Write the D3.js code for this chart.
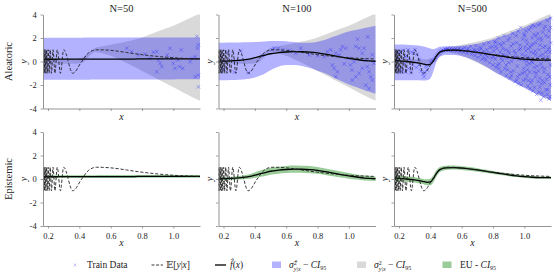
<!DOCTYPE html>
<html><head><meta charset="utf-8">
<script src="https://cdn.jsdelivr.net/npm/d3@7"></script>
<style>
body{margin:0;background:#fff}
svg{display:block}
text{font-family:"Liberation Serif","DejaVu Serif",serif;fill:#222}
</style>
</head><body><svg id="c" width="555" height="279"></svg>
<script>
// ---------------- DATA ----------------
const titles = ["N=50", "N=100", "N=500"];
const rowLabels = ["Aleatoric", "Epistemic"];
const xTicks = [0.2, 0.4, 0.6, 0.8, 1.0];
const yTicks = [-4, -2, 0, 2, 4];

// common x grid for the bands / model curves
const xs = [0.168,0.2,0.25,0.3,0.35,0.38,0.4,0.42,0.44,0.46,0.5,0.55,0.6,0.65,0.7,0.75,0.8,0.85,0.9,0.95,1.0,1.05,1.1,1.17];

// true mean E[y|x] (read at its extrema / knots)
const eX = [0.167,0.1696,0.1724,0.1755,0.1789,0.1825,0.1864,0.1908,0.1955,0.201,0.207,0.214,0.222,0.232,0.244,0.259,0.279,0.300,0.358,0.415,0.46,0.51,0.55,0.6,0.65,0.7,0.75,0.8,0.85,0.9,0.95,1.0,1.05,1.1,1.17];
const eY = [-1,1,-1,1,-1,1,-1,1,-1,1,-1,1,-1,1,-1,1,-1,1,-1,0,0.75,1.0,0.99,0.95,0.87,0.77,0.67,0.58,0.5,0.43,0.37,0.32,0.28,0.25,0.22];

// true aleatoric CI95 (grey)
const grayUp = [0.2,0.2,0.2,0.2,0.2,0.2,0.25,0.35,0.55,0.75,1.15,1.3,1.42,1.55,1.7,1.85,2.05,2.3,2.55,2.8,3.05,3.35,3.65,4.1];
const grayLo = [-0.2,-0.2,-0.2,-0.2,-0.2,-0.2,-0.15,-0.1,0.1,0.4,0.8,0.68,0.48,0.2,-0.1,-0.45,-0.8,-1.15,-1.5,-1.85,-2.2,-2.55,-2.9,-3.35];

// N=50
const fhat1   = [0.19,0.19,0.19,0.2,0.2,0.2,0.2,0.2,0.2,0.2,0.2,0.21,0.21,0.21,0.21,0.21,0.22,0.22,0.22,0.22,0.23,0.23,0.23,0.23];
const blueUp1 = [2.03,2.03,2.03,2.03,2.03,2.03,2.03,2.03,2.04,2.04,2.04,2.04,2.04,2.04,2.04,2.04,2.04,2.04,2.05,2.05,2.05,2.05,2.05,2.05];
const blueLo1 = [-1.55,-1.55,-1.55,-1.55,-1.55,-1.55,-1.55,-1.55,-1.55,-1.55,-1.54,-1.54,-1.54,-1.54,-1.54,-1.54,-1.53,-1.53,-1.53,-1.53,-1.53,-1.52,-1.52,-1.52];
const eu1     = [0.12,0.12,0.12,0.12,0.12,0.12,0.12,0.12,0.12,0.12,0.12,0.12,0.12,0.12,0.12,0.12,0.12,0.12,0.12,0.12,0.12,0.12,0.12,0.12];
const pts1 = [[0.703,1.13],[0.734,0.84],[0.777,0.56],[0.851,0.27],[0.872,0.79],[0.894,0.84],[0.904,0.13],[0.915,-0.16],[0.926,-0.44],[0.894,-0.87],[0.979,1.13],[0.99,0.27],[1.0,-0.16],[1.01,-0.58],[1.03,0.13],[1.04,-0.44],[1.05,0.99],[1.06,-0.58],[1.107,-0.02],[1.118,0.27],[1.139,0.41],[1.15,2.13],[1.154,1.13],[1.16,1.42],[1.16,-2.16],[1.16,-1.16],[1.14,-1.3],[0.96,0.55],[0.82,0.62]];

// N=100
const fhat2   = [0.02,0.03,0.05,0.1,0.18,0.25,0.32,0.4,0.47,0.53,0.66,0.75,0.81,0.84,0.83,0.8,0.73,0.62,0.5,0.38,0.27,0.17,0.08,0.02];
const blueUp2 = [1.6,1.6,1.61,1.62,1.63,1.64,1.65,1.67,1.69,1.71,1.74,1.75,1.72,1.65,1.6,1.6,1.68,1.85,2.1,2.35,2.55,2.7,2.85,3.05];
const blueLo2 = [-1.6,-1.6,-1.58,-1.55,-1.48,-1.42,-1.36,-1.28,-1.18,-1.06,-0.75,-0.45,-0.3,-0.3,-0.38,-0.55,-0.78,-1.02,-1.33,-1.65,-1.95,-2.2,-2.45,-2.75];
const eu2     = [0.12,0.12,0.13,0.15,0.18,0.21,0.24,0.26,0.28,0.29,0.3,0.3,0.3,0.3,0.3,0.3,0.29,0.28,0.27,0.26,0.24,0.22,0.21,0.2];
const pts2 = [[0.522,1.13],[0.693,1.13],[0.661,0.7],[0.746,0.56],[0.842,0.41],[0.863,0.84],[0.885,0.99],[0.916,0.7],[0.938,0.56],[0.948,0.99],[0.959,1.27],[0.98,1.13],[0.895,-0.3],[0.906,-0.58],[0.927,-0.87],[0.916,-1.3],[1.0,0.27],[1.01,-0.3],[1.02,-0.73],[1.033,-0.02],[1.044,1.27],[1.065,1.13],[1.086,0.7],[1.097,1.13],[1.108,0.13],[1.118,-0.44],[1.129,-0.87],[1.14,-1.3],[1.15,-1.59],[1.108,-2.02],[1.129,-2.3],[1.022,-1.59],[1.044,-1.3],[1.065,-1.01],[1.086,-0.58],[1.15,0.56],[1.16,-0.16],[0.18,0.5],[0.2,-0.6],[0.23,0.8],[0.27,-0.9],[0.31,0.9],[0.36,-0.95],[0.45,0.5],[0.58,1.0],[0.62,0.95],[0.55,1.1],[0.51,0.99],[0.8,0.5],[0.97,-0.2],[1.12,2.1],[1.055,1.9]];

// N=500
const fhat3   = [0.1,0.05,0.0,-0.08,-0.2,-0.28,-0.25,0.05,0.5,0.8,0.95,0.97,0.93,0.86,0.77,0.67,0.56,0.46,0.36,0.27,0.2,0.15,0.12,0.11];
const blueUp3 = [1.45,1.45,1.42,1.38,1.3,1.2,1.1,1.05,1.15,1.25,1.3,1.3,1.32,1.4,1.52,1.68,1.88,2.1,2.35,2.62,2.9,3.2,3.45,3.8];
const blueLo3 = [-1.6,-1.6,-1.6,-1.6,-1.62,-1.6,-1.45,-0.8,0.0,0.4,0.55,0.55,0.45,0.25,-0.05,-0.4,-0.8,-1.2,-1.55,-1.9,-2.25,-2.6,-2.9,-3.3];
const eu3     = [0.25,0.25,0.24,0.22,0.23,0.25,0.28,0.3,0.26,0.22,0.18,0.17,0.16,0.16,0.15,0.14,0.13,0.12,0.12,0.11,0.11,0.1,0.1,0.1];
const pts3 = [[0.172,0.6],[0.178,-0.7],[0.185,0.9],[0.19,-0.4],[0.196,0.3],[0.203,-0.9],[0.21,0.8],[0.218,-0.5],[0.226,0.95],[0.235,-0.2],[0.242,-0.9],[0.25,0.5],[0.258,0.98],[0.266,0.2],[0.275,-0.95],[0.285,-0.3],[0.293,0.7],[0.302,1.0],[0.315,0.6],[0.328,-0.3],[0.34,-0.8],[0.352,-1.05],[0.365,-0.95],[0.378,-0.7],[0.39,-0.35],[0.402,-0.05],[0.412,0.1],
[0.18,0.2],[0.2,0.7],[0.22,-0.8],[0.24,0.4],[0.26,-0.6],[0.28,0.8],[0.31,-0.5],[0.33,0.2],[0.36,-1.3],[0.37,-0.4],
[0.425,0.15],[0.432,0.35],[0.44,0.5],[0.447,0.62],[0.455,0.72],[0.462,0.85],[0.47,0.9],[0.478,0.98],[0.485,0.92],[0.493,1.05],[0.5,1.0],[0.508,1.1],[0.515,0.95],[0.522,1.02],[0.53,1.12],[0.538,0.92],[0.545,1.05],[0.553,0.98],[0.56,1.1],[0.568,0.9],[0.575,1.0],[0.583,1.15],[0.59,0.85],[0.598,0.98],[0.605,1.08],
[0.612,0.8],[0.62,1.2],[0.628,0.95],[0.635,0.7],[0.642,1.1],[0.65,0.9],[0.657,1.3],[0.663,0.6],[0.67,0.85],[0.677,1.0],[0.684,0.5],[0.69,1.35],[0.697,0.75],[0.704,0.35],[0.71,0.95],[0.717,1.2],[0.723,0.55],[0.73,0.2],[0.736,0.85],[0.742,1.45],[0.748,0.6],[0.754,0.1],[0.76,1.0],[0.766,0.4],[0.772,1.6],[0.778,-0.1],[0.784,0.7],[0.79,0.3],[0.796,1.25],[0.8,-0.3],
[0.757,0.7],[0.725,1.1],[0.69,0.95],[0.745,0.3],[0.78,1.2],
[0.805,0.9],[0.81,1.7],[0.815,0.2],[0.82,-0.5],[0.825,1.1],[0.83,0.5],[0.835,2.0],[0.84,-0.2],[0.845,0.8],[0.85,-0.9],[0.855,1.4],[0.86,0.1],[0.865,0.6],[0.87,2.2],[0.875,-0.6],[0.88,1.0],[0.885,-1.2],[0.89,0.3],[0.895,1.8],[0.9,-0.1],[0.905,0.7],[0.91,-1.4],[0.915,1.3],[0.92,0.0],[0.925,2.4],[0.93,-0.8],[0.935,0.9],[0.94,-1.7],[0.945,0.4],[0.95,1.6],[0.955,-0.4],[0.96,2.6],[0.965,0.2],[0.97,-1.1],[0.975,1.1],[0.98,-2.0],[0.985,0.6],[0.99,1.9],[0.995,-0.6],[1.0,0.1],[0.977,2.9],[0.817,1.62],
[0.905,2.0],[0.918,-1.2],[0.932,0.3],[0.948,2.2],[0.952,-1.6],[0.967,1.0],[0.982,0.2],[0.993,-1.6],[0.862,1.1],[0.878,0.5],[0.892,-0.7],[0.842,1.5],[0.828,-0.3],
[1.003,2.2],[1.007,-1.5],[1.01,0.9],[1.014,-0.3],[1.018,1.5],[1.022,-2.1],[1.026,0.4],[1.03,2.7],[1.034,-0.9],[1.038,1.2],[1.042,-1.8],[1.046,0.0],[1.05,2.0],[1.054,-2.5],[1.058,0.7],[1.062,-0.5],[1.066,3.0],[1.07,-1.3],[1.074,1.6],[1.078,-2.8],[1.082,0.3],[1.086,2.4],[1.09,-0.8],[1.094,1.0],[1.098,-2.2],[1.102,3.2],[1.106,-0.2],[1.11,1.8],[1.114,-1.6],[1.118,0.6],[1.122,-3.0],[1.126,2.8],[1.13,-0.6],[1.134,1.3],[1.138,-2.4],[1.142,0.1],[1.146,3.5],[1.15,-1.1],[1.154,2.1],[1.158,-3.2],[1.162,0.8],[1.166,-0.3],[1.169,1.6],
[1.005,0.5],[1.013,1.8],[1.021,-0.7],[1.029,0.2],[1.037,-2.3],[1.045,1.4],[1.053,-0.1],[1.061,2.3],[1.069,0.9],[1.077,-1.0],[1.085,1.9],[1.093,-2.6],[1.101,0.5],[1.109,-1.9],[1.117,2.5],[1.125,-0.9],[1.133,3.0],[1.141,-1.5],[1.149,0.4],[1.157,2.6],[1.165,-2.0],[1.168,3.7],[1.105,-3.3],
[1.001,-0.9],[1.009,2.6],[1.017,-1.2],[1.025,1.1],[1.033,-0.2],[1.041,2.9],[1.049,-1.6],[1.057,1.5],[1.065,-2.2],[1.073,0.6],[1.081,-0.4],[1.089,3.1],[1.097,-1.4],[1.105,2.0],[1.113,-2.7],[1.121,1.2],[1.129,-1.8],[1.137,0.8],[1.145,-2.8],[1.153,1.0],[1.161,-1.3],[1.167,2.9],
[1.003,1.2],[1.016,0.0],[1.027,-1.6],[1.04,0.8],[1.052,3.1],[1.063,-0.9],[1.075,2.2],[1.088,-1.7],[1.1,1.4],[1.112,-0.5],[1.124,0.3],[1.136,2.2],[1.148,-2.4],[1.16,1.2],[1.164,-3.0],
[0.803,0.4],[0.818,1.3],[0.838,-0.6],[0.853,0.3],[0.868,1.6],[0.883,-0.3],[0.898,0.9],[0.913,-0.9],[0.928,1.5],[0.943,0.7],[0.958,-1.3],[0.973,1.4],[0.988,-1.0],[0.998,2.3],[0.962,-1.9]];

const panels = [
  {fhat: fhat1, up: blueUp1, lo: blueLo1, eu: eu1, pts: pts1},
  {fhat: fhat2, up: blueUp2, lo: blueLo2, eu: eu2, pts: pts2},
  {fhat: fhat3, up: blueUp3, lo: blueLo3, eu: eu3, pts: pts3}
];

// ---------------- LAYOUT ----------------
const svg = d3.select("#c");
const colLeft = [43, 218.5, 394], pw = 157;
const rowTop = [14.5, 132], ph = 94;
const xDomain = [0.168, 1.17];
const axisCol = "#888", txtCol = "#333";

const eData = eX.map((x, i) => [x, eY[i]]);

panels.forEach((P, c) => {
  for (let r = 0; r < 2; r++) {
    const L = colLeft[c], T = rowTop[r];
    const x = d3.scaleLinear().domain(xDomain).range([L, L + pw]);
    const y = d3.scaleLinear().domain([-4, 4]).range([T + ph, T]);
    const id = `clip${r}${c}`;
    svg.append("clipPath").attr("id", id).append("rect")
      .attr("x", L).attr("y", T).attr("width", pw + 2).attr("height", ph);
    const g = svg.append("g").attr("clip-path", `url(#${id})`);
    const band = (up, lo) => d3.area()
      .x((d, i) => x(xs[i])).y0((d, i) => y(lo[i])).y1((d, i) => y(up[i]))
      .curve(d3.curveMonotoneX)(xs);
    const line = d3.line().x(d => x(d[0])).y(d => y(d[1])).curve(d3.curveMonotoneX);

    if (r === 0) {
      g.append("path").attr("d", band(grayUp, grayLo)).attr("fill", "#808080").attr("opacity", 0.3);
      g.append("path").attr("d", band(P.up, P.lo)).attr("fill", "#0000ff").attr("opacity", 0.3);
      g.append("path").attr("fill", "none").attr("stroke", "#2020ff").attr("stroke-opacity", 0.5).attr("stroke-width", 0.7)
        .attr("d", P.pts.map(p => {
          const px = x(p[0]), py = y(p[1]), s = 1.8;
          return `M${px - s},${py - s}L${px + s},${py + s}M${px - s},${py + s}L${px + s},${py - s}`;
        }).join(""));
    } else {
      const gu = P.fhat.map((v, i) => v + P.eu[i]), gl = P.fhat.map((v, i) => v - P.eu[i]);
      g.append("path").attr("d", band(gu, gl)).attr("fill", "#008000").attr("opacity", 0.4);
    }
    g.append("path").attr("d", line(xs.map((v, i) => [v, P.fhat[i]])))
      .attr("fill", "none").attr("stroke", "#000").attr("stroke-width", 1.3);
    g.append("path").attr("d", line(eData))
      .attr("fill", "none").attr("stroke", "#222").attr("stroke-width", 0.9).attr("stroke-dasharray", "3.2,1.8");

    // axes
    const xa = svg.append("g").attr("transform", `translate(0,${T + ph})`)
      .call(d3.axisBottom(x).tickValues(xTicks).tickSize(2.5).tickSizeOuter(0)
        .tickFormat(r === 1 ? d3.format(".1f") : () => ""));
    const ya = svg.append("g").attr("transform", `translate(${L},0)`)
      .call(d3.axisLeft(y).tickValues(yTicks).tickSize(2.5).tickSizeOuter(0)
        .tickFormat(c === 0 ? (d => d < 0 ? "-" + Math.abs(d) : String(d)) : () => ""));
    [xa, ya].forEach(a => {
      a.select(".domain").attr("stroke", axisCol).attr("stroke-width", 0.9);
      a.selectAll(".tick line").attr("stroke", axisCol).attr("stroke-width", 0.8);
      a.selectAll("text").attr("font-family", "Liberation Serif, serif").attr("font-size", 8.5).attr("fill", txtCol);
    });
    xa.selectAll("text").attr("dy", "0.9em");
    ya.selectAll("text").attr("dx", "-0.1em");

    // axis labels
    svg.append("text").attr("x", L + pw / 2).attr("y", T + ph + (r === 0 ? 11 : 20))
      .attr("text-anchor", "middle").attr("font-style", "italic").attr("font-size", 10).text("x");
    const yx = c === 0 ? 27 : L - 6;
    svg.append("text").attr("transform", `translate(${yx},${T + ph / 2}) rotate(-90)`)
      .attr("text-anchor", "middle").attr("font-style", "italic").attr("font-size", 10).text("y");
  }
  svg.append("text").attr("x", colLeft[c] + pw / 2).attr("y", 11.5)
    .attr("text-anchor", "middle").attr("font-size", 10.5).text(titles[c]);
});

rowLabels.forEach((t, r) => {
  svg.append("text").attr("transform", `translate(12,${rowTop[r] + ph / 2}) rotate(-90)`)
    .attr("text-anchor", "middle").attr("font-size", 10.5).text(t);
});

// ---------------- LEGEND ----------------
const ly = 265, lfs = 9.5;
const leg = svg.append("g");
leg.append("path").attr("d", `M73.5,${ly - 1.5}L76.5,${ly + 1.5}M73.5,${ly + 1.5}L76.5,${ly - 1.5}`)
  .attr("stroke", "#2020ff").attr("stroke-opacity", 0.35).attr("stroke-width", 0.7);
leg.append("text").attr("x", 87).attr("y", ly + 3).attr("font-size", lfs).text("Train Data");

leg.append("line").attr("x1", 151.5).attr("x2", 163).attr("y1", ly).attr("y2", ly)
  .attr("stroke", "#222").attr("stroke-width", 0.9).attr("stroke-dasharray", "3,1.6");
const t2 = leg.append("text").attr("x", 166).attr("y", ly + 3).attr("font-size", lfs);
t2.append("tspan").text("𝔼[");
t2.append("tspan").attr("font-style", "italic").text("y");
t2.append("tspan").text("|");
t2.append("tspan").attr("font-style", "italic").text("x");
t2.append("tspan").text("]");

leg.append("line").attr("x1", 215).attr("x2", 226).attr("y1", ly).attr("y2", ly)
  .attr("stroke", "#000").attr("stroke-width", 1.3);
const t3 = leg.append("text").attr("x", 230).attr("y", ly + 3).attr("font-size", lfs);
t3.append("tspan").attr("font-style", "italic").text("f\u0302");
t3.append("tspan").text("(");
t3.append("tspan").attr("font-style", "italic").text("x");
t3.append("tspan").text(")");

function sigmaLabel(xp, hat) {
  const t = leg.append("text").attr("x", xp).attr("y", ly + 3).attr("font-size", lfs);
  t.append("tspan").attr("font-style", "italic").text(hat ? "σ\u0302" : "σ");
  t.append("tspan").attr("font-size", 6).attr("dy", -3.5).text("2");
  t.append("tspan").attr("font-size", 6).attr("font-style", "italic").attr("dx", -3).attr("dy", 6).text("y|x");
  t.append("tspan").attr("dy", -2.5).text(" − ");
  t.append("tspan").attr("font-style", "italic").text("CI");
  t.append("tspan").attr("font-size", 6).attr("dy", 2).text("95");
}
leg.append("rect").attr("x", 272).attr("y", ly - 3.5).attr("width", 9).attr("height", 6.5).attr("fill", "#0000ff").attr("opacity", 0.3);
sigmaLabel(289, true);
leg.append("rect").attr("x", 357).attr("y", ly - 3.5).attr("width", 9).attr("height", 6.5).attr("fill", "#808080").attr("opacity", 0.3);
sigmaLabel(374, false);
leg.append("rect").attr("x", 442.5).attr("y", ly - 3.5).attr("width", 9).attr("height", 6.5).attr("fill", "#008000").attr("opacity", 0.4);
const t6 = leg.append("text").attr("x", 460).attr("y", ly + 3).attr("font-size", lfs);
t6.append("tspan").text("EU - ");
t6.append("tspan").attr("font-style", "italic").text("CI");
t6.append("tspan").attr("font-size", 6).attr("dy", 2).text("95");
</script>
</body></html>
